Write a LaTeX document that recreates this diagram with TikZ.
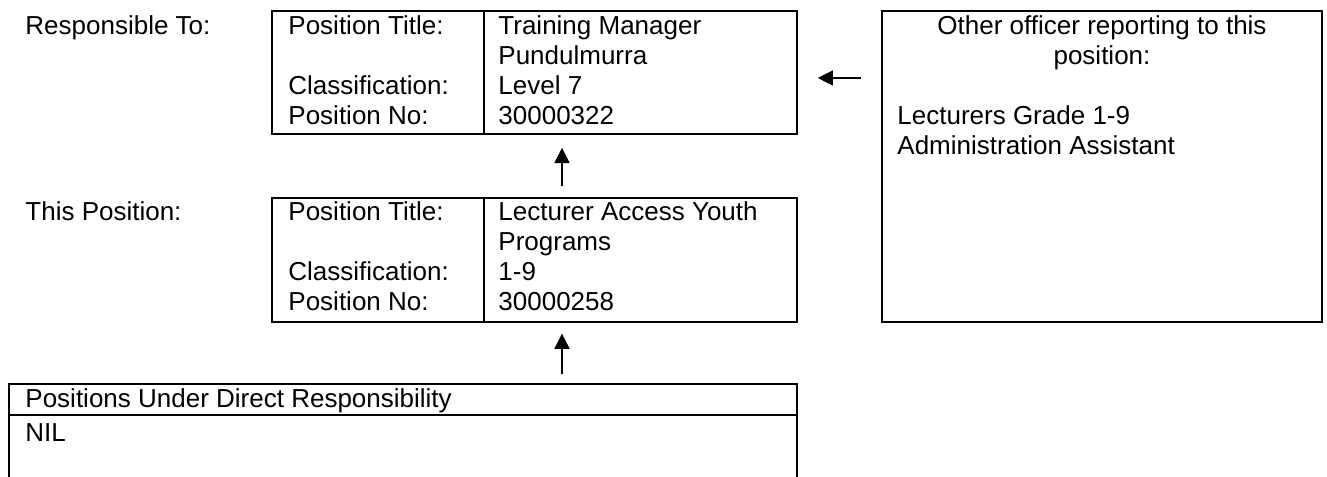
\documentclass[tikz,border=0pt]{standalone}
\usepackage{fontspec}
\setmainfont{Liberation Sans}
\usetikzlibrary{arrows.meta, positioning, calc, fit}
\tikzset{
  box/.style={rectangle, draw=black, line width=0.8pt, inner sep=0pt},
  txt/.style={inner sep=0pt, anchor=base west, align=left,
    font=\fontsize{12}{13.85}\selectfont},
  arrow/.style={-{Triangle[length=7pt, width=7pt]}, line width=0.5pt, color=black},
  line/.style={line width=0.8pt, color=black}
}
\begin{document}
\begin{tikzpicture}[x=0.4615pt, y=-0.4615pt]
    \useasboundingbox (0,0) rectangle (1327,477);
    % Corners of the boxes
    \coordinate (r1) at (272,11);  \coordinate (r2) at (797,134);
    \coordinate (t1) at (272,198); \coordinate (t2) at (797,322);
    \coordinate (o1) at (882,11);  \coordinate (o2) at (1322,322);
    \coordinate (u1) at (9,384);   \coordinate (u2) at (797,490);
    \coordinate (div) at (484,0);
    \coordinate (hdr) at (0,415);
    \coordinate (ax) at (562,0);
    \coordinate (ay) at (0,78);
    % Boxes
    \node[box, fit=(r1)(r2)] (resp) {};
    \node[box, fit=(t1)(t2)] (thispos) {};
    \node[box, fit=(o1)(o2)] (other) {};
    \node[box, fit=(u1)(u2)] (under) {};
    \draw[line] (resp.north -| div) -- (resp.south -| div);
    \draw[line] (thispos.north -| div) -- (thispos.south -| div);
    \draw[line] (under.west |- hdr) -- (under.east |- hdr);
    % Side labels
    \node[txt] (lresp) at (25,35) {Responsible To:};
    \node[txt] (lthis) at (25,221) {This Position:};
    % Responsible to (anchored at the last line)
    \node[txt] (respk) at (288,125) {Position Title:\\ \\Classification:\\Position No:};
    \node[txt] (respv) at (498,125) {Training Manager\\Pundulmurra\\Level 7\\30000322};
    % This position
    \node[txt] (thisk) at (288,311) {Position Title:\\ \\Classification:\\Position No:};
    \node[txt] (thisv) at (498,311) {Lecturer Access Youth\\Programs\\1-9\\30000258};
    % Other officers
    \node[txt, anchor=base, align=center] (otherh) at (1102,65) {Other officer reporting to this\\position:};
    \node[txt] (otherl) at (897,155) {Lecturers Grade 1-9\\Administration Assistant};
    % Positions under
    \node[txt] (underh) at (25,408) {Positions Under Direct Responsibility};
    \node[txt] (underl) at (25,442) {NIL};
    % Arrows
    \draw[arrow, shorten <=5pt, shorten >=6pt] (ax |- thispos.north) -- (ax |- resp.south);
    \draw[arrow, shorten <=4pt, shorten >=5pt] (ax |- under.north) -- (ax |- thispos.south);
    \draw[arrow, shorten <=9.2pt, shorten >=9.2pt] (other.west |- ay) -- (resp.east |- ay);
  \end{tikzpicture}
\end{document}
